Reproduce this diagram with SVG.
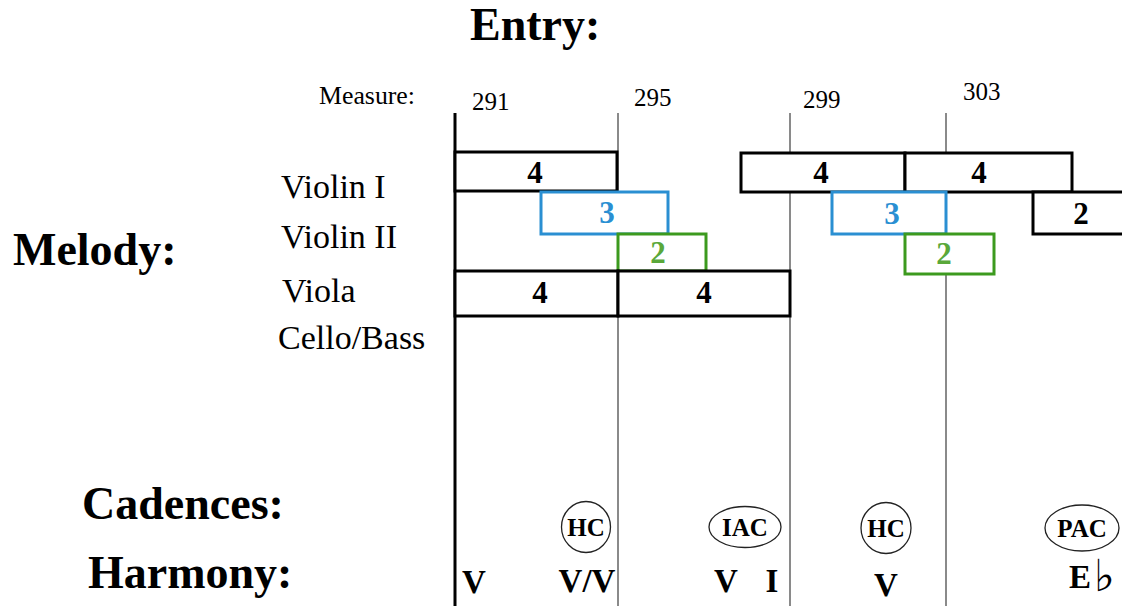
<svg xmlns="http://www.w3.org/2000/svg" width="1122" height="606" viewBox="0 0 1122 606">
  <style>
    .head { font-family: "Liberation Serif", "Times New Roman", serif; font-weight: bold; font-size: 46px; fill: #000; }
    .inst { font-family: "Liberation Serif", "Times New Roman", serif; font-size: 34px; fill: #000; }
    .meas { font-family: "Liberation Serif", "Times New Roman", serif; font-size: 25px; fill: #000; }
    .num { font-family: "Liberation Serif", "Times New Roman", serif; font-weight: bold; font-size: 31px; text-anchor: middle; }
    .cad { font-family: "Liberation Serif", "Times New Roman", serif; font-weight: bold; font-size: 25px; text-anchor: middle; fill: #000; }
    .harm { font-family: "Liberation Serif", "Times New Roman", serif; font-weight: bold; font-size: 33px; text-anchor: middle; fill: #000; }
    .flat { font-family: "DejaVu Sans", sans-serif; font-size: 44px; fill: #000; }
    .box { fill: #fff; stroke-width: 3; }
    .blk { stroke: #000; }
    .blu { stroke: #2a8fd2; }
    .grn { stroke: #3c9a1e; }
    .oval { fill: none; stroke: #222; stroke-width: 1.3; }
    .grid { stroke: #8a8a8a; stroke-width: 2; }
  </style>

  <!-- headings -->
  <text class="head" x="470" y="40">Entry:</text>
  <text class="head" x="13" y="265">Melody:</text>
  <text class="head" x="82" y="519">Cadences:</text>
  <text class="head" x="88" y="588">Harmony:</text>

  <!-- instrument labels -->
  <g id="instruments">
    <text class="inst" x="281" y="198">Violin I</text>
    <text class="inst" x="281" y="248">Violin II</text>
    <text class="inst" x="282" y="302">Viola</text>
    <text class="inst" x="278" y="349">Cello/Bass</text>
  </g>

  <!-- measure numbers -->
  <g id="measures">
    <text class="meas" x="319" y="104" textLength="96" lengthAdjust="spacingAndGlyphs">Measure:</text>
    <text class="meas" x="472" y="110">291</text>
    <text class="meas" x="634" y="106">295</text>
    <text class="meas" x="803" y="108">299</text>
    <text class="meas" x="963" y="100">303</text>
  </g>

  <!-- measure lines -->
  <g id="measure-lines">
    <line class="grid" x1="618" y1="113" x2="618" y2="606"/>
    <line class="grid" x1="790" y1="113" x2="790" y2="606"/>
    <line class="grid" x1="946" y1="113" x2="946" y2="606"/>
    <line x1="455" y1="113" x2="455" y2="606" stroke="#000" stroke-width="3"/>
  </g>

  <!-- Violin I entries -->
  <g id="vn1-a">
    <rect class="box blk" x="455" y="152" width="162" height="39"/>
    <text class="num" x="535" y="183" fill="#000">4</text>
  </g>
  <g id="vn1-b">
    <rect class="box blk" x="741" y="153" width="164" height="39"/>
    <text class="num" x="821" y="183" fill="#000">4</text>
  </g>
  <g id="vn1-c">
    <rect class="box blk" x="905" y="153" width="167" height="39"/>
    <text class="num" x="979" y="183" fill="#000">4</text>
  </g>
  <g id="vn1-d">
    <rect class="box blk" x="1033" y="192" width="100" height="42"/>
    <text class="num" x="1081" y="224" fill="#000">2</text>
  </g>

  <!-- Violin II entries -->
  <g id="vn2-a">
    <rect class="box blu" x="541" y="192" width="127" height="42"/>
    <text class="num" x="607" y="223" fill="#2a8fd2">3</text>
  </g>
  <g id="vn2-b">
    <rect class="box blu" x="832" y="192" width="114" height="42"/>
    <text class="num" x="892" y="224" fill="#2a8fd2">3</text>
  </g>

  <!-- Viola short entries -->
  <g id="vla-a">
    <rect class="box grn" x="618" y="234" width="88" height="37"/>
    <text class="num" x="658" y="263" fill="#5aa83a">2</text>
  </g>
  <g id="vla-b">
    <rect class="box grn" x="905" y="234" width="89" height="40"/>
    <text class="num" x="944" y="264" fill="#5aa83a">2</text>
  </g>

  <!-- Viola long entries -->
  <g id="vla-c">
    <rect class="box blk" x="455" y="271" width="163" height="45"/>
    <text class="num" x="540" y="303" fill="#000">4</text>
  </g>
  <g id="vla-d">
    <rect class="box blk" x="618" y="271" width="172" height="45"/>
    <text class="num" x="704" y="303" fill="#000">4</text>
  </g>

  <!-- cadences -->
  <g id="cad-hc1">
    <ellipse class="oval" cx="586" cy="527" rx="24.5" ry="25.5"/>
    <text class="cad" x="586" y="536">HC</text>
  </g>
  <g id="cad-iac">
    <ellipse class="oval" cx="745" cy="527" rx="36" ry="20.5"/>
    <text class="cad" x="745" y="536">IAC</text>
  </g>
  <g id="cad-hc2">
    <ellipse class="oval" cx="886" cy="528" rx="25" ry="25.5"/>
    <text class="cad" x="886" y="537">HC</text>
  </g>
  <g id="cad-pac">
    <ellipse class="oval" cx="1082" cy="528" rx="37" ry="23"/>
    <text class="cad" x="1082" y="537">PAC</text>
  </g>

  <!-- harmony -->
  <g id="harmony">
    <text class="harm" x="474" y="593">V</text>
    <text class="harm" x="587" y="592">V/V</text>
    <text class="harm" x="726" y="592">V</text>
    <text class="harm" x="772" y="592">I</text>
    <text class="harm" x="886" y="596">V</text>
    <text class="harm" x="1080" y="588">E</text>
    <text class="flat" x="1094" y="591">♭</text>
  </g>
</svg>
